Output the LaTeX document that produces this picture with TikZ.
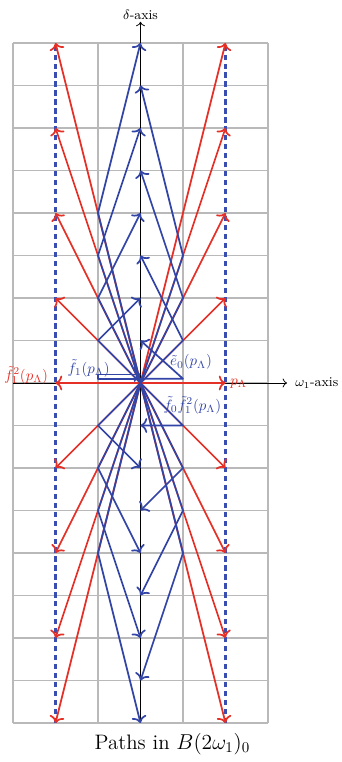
\documentclass[tikz,border=0pt]{standalone}
\usepackage{amsmath}
\usetikzlibrary{arrows.meta}
\definecolor{pathred}{RGB}{228,48,38}
\definecolor{pathblue}{RGB}{50,68,166}
\definecolor{wallblue}{RGB}{58,78,176}

\begin{document}
\begin{tikzpicture}[
  >={Computer Modern Rightarrow[length=4.5pt,width=10pt]},
  gridline/.style={gray!55,line width=0.7pt},
  axis/.style={-{Computer Modern Rightarrow[length=3pt,width=6pt]},line width=0.5pt},
  straight/.style={->,pathred,line width=1.15pt},
  bent/.style={->,pathblue,line width=1.15pt,line join=round},
  wall/.style={wallblue,line width=1.5pt,dash pattern=on 3.5pt off 2.5pt},
  lbl/.style={font=\normalsize,inner sep=1pt},
  axislbl/.style={font=\small,inner sep=1pt}
]
\useasboundingbox (-3.306,-8.918) rectangle (4.718,9.012);

% grid
\foreach \x in {-3,-1,1,3} \draw[gridline] (\x,-8) -- (\x,8);
\foreach \y in {-8,...,8} \draw[gridline] (-3,\y) -- (3,\y);

% axes
\draw[axis] (0,-8) -- (0,8.5) node[above,axislbl] (daxis) {$\delta$-axis};
\draw[axis] (-3,0) -- (3.45,0);
\node[axislbl,anchor=west] (waxis) at (3.6,0) {$\omega_1$-axis};

% walls
\draw[wall] (-2,-8) -- (-2,8);
\draw[wall] (2,-8) -- (2,8);

% straight paths
\foreach \k in {-4,...,4} {
  \draw[straight] (0,0) -- (2,{2*\k});
  \draw[straight] (0,0) -- (-2,{2*\k});
}

% two-step paths
\foreach \k in {-4,...,-1,1,2,3,4}
  \draw[bent] (0,0) -- (-1,\k) -- (0,{2*\k});
\foreach \k in {-4,...,-1,1,2,3}
  \draw[bent] (0,0) -- (1,\k) -- (0,{2*\k+1});
\draw[bent] (0,0.1) -- (1,0.1) -- (0,1);
\draw[bent] (0,0.1) -- (-1,0.1) -- (-1,0.2) -- (0,0.2);

% labels
\node[lbl,pathblue] (fone) at (-1.22,0.35) {$\tilde{f}_1(p_\Lambda)$};
\node[lbl,pathblue] (ezero) at (1.19,0.49) {$\tilde{e}_0(p_\Lambda)$};
\node[lbl,pathblue] (fzero) at (1.22,-0.52) {$\tilde{f}_0\tilde{f}_1^2(p_\Lambda)$};
\node[lbl,pathred] (fsq) at (-2.69,0.19) {$\tilde{f}_1^2(p_\Lambda)$};
\node[lbl,pathred,anchor=west] (plam) at (2.07,-0.02) {$p_\Lambda$};

\node (caption) at (0.75,-8.5)
  {\fontsize{14}{16}\selectfont Paths in $B(2\omega_1)_0$};
\end{tikzpicture}
\end{document}
